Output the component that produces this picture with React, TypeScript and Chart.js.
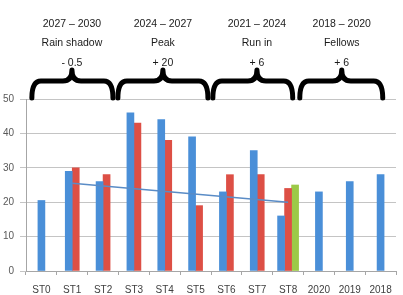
import React, { useEffect, useRef } from "react";
import { Chart, registerables } from "chart.js";

Chart.register(...registerables);

const categories = ["ST0", "ST1", "ST2", "ST3", "ST4", "ST5", "ST6", "ST7", "ST8", "2020", "2019", "2018"];
const blueValues = [20.5, 29, 26, 46, 44, 39, 23, 35, 16, 23, 26, 28];
const redValues = [null, 30, 28, 43, 38, 19, 28, 28, 24, null, null, null];
const greenValues = [null, null, null, null, null, null, null, null, 25, null, null, null];
const trendValues = [null, 25.5, null, null, null, null, null, null, 20, null, null, null];
const yTicks = [0, 10, 20, 30, 40, 50];

// Header groups: [first line, second line, third line]
const groupTexts = [
  ["2027 – 2030", "Rain shadow", "- 0.5"],
  ["2024 – 2027", "Peak", "+ 20"],
  ["2021 – 2024", "Run in", "+ 6"],
  ["2018 – 2020", "Fellows", "+ 6"],
];
// Brace spans in category units: [start, tip, end]
const braceSpans = [
  [-0.31, 0.99, 2.32],
  [2.48, 3.94, 5.4],
  [5.56, 6.99, 8.15],
  [8.38, 9.74, 11.07],
];

const FONT = "'Liberation Sans Narrow', 'Liberation Sans', sans-serif";

const bracePlugin = {
  id: "braces",
  afterDraw(chart: any) {
    const ctx = chart.ctx;
    const xs = chart.scales.x;
    ctx.save();
    ctx.strokeStyle = "#000";
    ctx.lineWidth = 5;
    ctx.lineCap = "round";
    ctx.lineJoin = "round";
    const yb = 98;
    const ya = 81;
    const yt = 70;
    braceSpans.forEach((s) => {
      const x0 = xs.getPixelForValue(s[0]);
      const xm = xs.getPixelForValue(s[1]);
      const x1 = xs.getPixelForValue(s[2]);
      const r = 9;
      ctx.beginPath();
      ctx.moveTo(x0, yb);
      ctx.quadraticCurveTo(x0, ya, x0 + r, ya);
      ctx.lineTo(xm - r, ya);
      ctx.quadraticCurveTo(xm, ya, xm, yt);
      ctx.quadraticCurveTo(xm, ya, xm + r, ya);
      ctx.lineTo(x1 - r, ya);
      ctx.quadraticCurveTo(x1, ya, x1, yb);
      ctx.stroke();
    });
    ctx.fillStyle = "#1a1a1a";
    ctx.font = "10.5px " + FONT;
    ctx.textAlign = "center";
    ctx.textBaseline = "middle";
    groupTexts.forEach((lines, i) => {
      const cx = xs.getPixelForValue(braceSpans[i][1]);
      ctx.fillText(lines[0], cx, 24);
      ctx.fillText(lines[1], cx, 43);
      ctx.fillText(lines[2], cx, 63);
    });
    ctx.restore();
  },
};

export default function App() {
  const ref = useRef<HTMLCanvasElement>(null);
  useEffect(() => {
    document.body.style.margin = "0";
    const chart = new Chart(ref.current!, {
      type: "bar",
      data: {
        labels: categories,
        datasets: [
          {
            type: "line",
            data: trendValues,
            borderColor: "#5a8cc6",
            borderWidth: 1.6,
            pointRadius: 0,
            spanGaps: true,
            order: 0,
          } as any,
          { data: blueValues, backgroundColor: "#4a8fd8", barThickness: 7, skipNull: true, order: 1 } as any,
          { data: redValues, backgroundColor: "#dd4f45", barThickness: 7, skipNull: true, order: 1 } as any,
          { data: greenValues, backgroundColor: "#9cc948", barThickness: 7, skipNull: true, order: 1 } as any,
        ],
      },
      options: {
        responsive: false,
        animation: false,
        layout: { padding: { top: 99, right: 7, left: 0, bottom: 0 } },
        plugins: { legend: { display: false }, tooltip: { enabled: false } },
        scales: {
          x: {
            offset: true,
            afterFit: (s: any) => {
              s.height = 24;
            },
            grid: { display: true, drawOnChartArea: false, drawTicks: true, tickLength: 4, color: "#a6a6a6", offset: true },
            border: { color: "#a6a6a6" },
            ticks: { font: { size: 10, family: FONT }, color: "#404040", padding: 9, autoSkip: false, maxRotation: 0 },
          },
          y: {
            min: 0,
            max: 50,
            afterBuildTicks: (s: any) => {
              s.ticks = yTicks.map((v) => ({ value: v }));
            },
            afterFit: (s: any) => {
              s.width = 26;
            },
            grid: { color: "#c4c4c4", tickLength: 6, drawTicks: true },
            border: { color: "#a6a6a6" },
            ticks: { font: { size: 10, family: FONT }, color: "#595959", padding: 6 },
          },
        },
      },
      plugins: [bracePlugin],
    });
    return () => chart.destroy();
  }, []);
  return (
    <div style={{ position: "absolute", left: 0, top: 0, width: 403, height: 295, background: "#fff" }}>
      <canvas ref={ref} width={403} height={295} />
    </div>
  );
}
